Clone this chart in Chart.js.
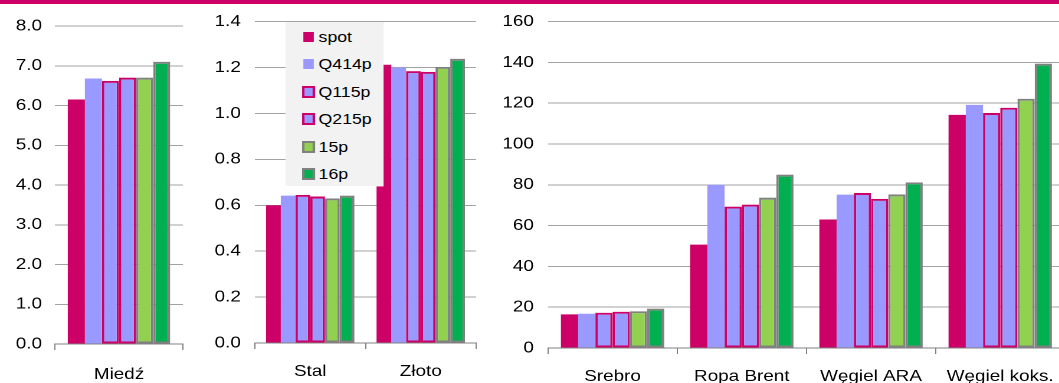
<!DOCTYPE html>
<html lang="pl">
<head>
<meta charset="utf-8">
<title>Ceny surowców – prognozy</title>
<script src="https://cdn.jsdelivr.net/npm/chart.js@4.4.1/dist/chart.umd.min.js"></script>
<style>
  html, body { margin: 0; padding: 0; background: #ffffff; overflow: hidden; }
  body { width: 1059px; height: 383px; position: relative; }
  #topline { position: absolute; left: 0; top: 0; width: 1059px; height: 4px; background: #cc0066; z-index: 5; }
  /* the whole figure is laid out at a narrower width and widened horizontally */
  #stage { position: absolute; left: 0; top: 0; width: 910px; height: 383px; transform-origin: 0 0; }
  .panel { position: absolute; top: 0; height: 383px; }
  .panel canvas { display: block; }
  #legend { position: absolute; background: #f2f2f2; z-index: 3;
            font-family: "Liberation Sans", Arial, sans-serif; font-size: 15px; color: #000000; }
  .item { position: absolute; left: 0; height: 20px; line-height: 20px; white-space: nowrap; }
  .sw { position: absolute; box-sizing: border-box; }
  .lbl { position: absolute; }
</style>
</head>
<body>
<div id="topline"></div>
<div id="stage">
  <div class="panel" id="p1"><canvas id="c1"></canvas></div>
  <div class="panel" id="p2"><canvas id="c2"></canvas></div>
  <div class="panel" id="p3"><canvas id="c3"></canvas></div>
  <div id="legend"></div>
</div>
<script>
// Commodities, grouped into three panels with their own value scales
const commodities = ['Miedź', 'Stal', 'Złoto', 'Srebro', 'Ropa Brent', 'Węgiel ARA', 'Węgiel koks.'];
const panelCopper = [0];
const panelSteelGold = [1, 2];
const panelOthers = [3, 4, 5, 6];

// Series: spot price and forecasts
const seriesNames = ['spot', 'Q414p', 'Q115p', 'Q215p', '15p', '16p'];
const spot  = [6.15, 0.600, 1.212, 16.5, 50.7, 63.0, 114.3];
const q414p = [6.68, 0.642, 1.200, 16.8, 80.0, 75.2, 119.2];
const q115p = [6.62, 0.645, 1.184, 17.3, 69.3, 76.0, 115.2];
const q215p = [6.70, 0.638, 1.181, 17.8, 70.3, 73.1, 117.8];
const y15p  = [6.70, 0.630, 1.203, 18.0, 73.7, 75.3, 122.2];
const y16p  = [7.10, 0.642, 1.238, 19.3, 85.0, 81.2, 139.4];
const seriesValues = [spot, q414p, q115p, q215p, y15p, y16p];

// Value axis ticks per panel
const ticksCopper = [0, 1, 2, 3, 4, 5, 6, 7, 8];
const ticksSteelGold = [0, 0.2, 0.4, 0.6, 0.8, 1.0, 1.2, 1.4];
const ticksOthers = [0, 20, 40, 60, 80, 100, 120, 140, 160];

// Styling
const SX = 1.18;                      // horizontal widening of the figure
const MAGENTA = '#cc0066', PERIWINKLE = '#9999ff', LIGHTGREEN = '#92d050', GREEN = '#00b050', GREY = '#808080';
const seriesStyle = [
  { fill: MAGENTA,    border: MAGENTA, bw: 0 },
  { fill: PERIWINKLE, border: PERIWINKLE, bw: 0 },
  { fill: PERIWINKLE, border: MAGENTA, bw: 2 },
  { fill: PERIWINKLE, border: MAGENTA, bw: 2 },
  { fill: LIGHTGREEN, border: GREY, bw: 2 },
  { fill: GREEN,      border: GREY, bw: 2 }
];
const FONT = { family: '"Liberation Sans", Arial, sans-serif', size: 16 };
const TEXT = '#000000';
const GRID = '#a3a3a3';

document.getElementById('stage').style.transform = 'scaleX(' + SX + ')';

function datasetsFor(idx) {
  return seriesNames.map((name, s) => ({
    label: name,
    data: idx.map(i => seriesValues[s][i]),
    backgroundColor: seriesStyle[s].fill,
    borderColor: seriesStyle[s].border,
    borderWidth: seriesStyle[s].bw,
    borderSkipped: false,
    categoryPercentage: 0.8,
    barPercentage: 1.0
  }));
}

function makePanel(cfg) {
  const wrap = document.getElementById(cfg.wrap);
  wrap.style.left = cfg.left + 'px';
  wrap.style.width = cfg.width + 'px';
  const canvas = document.getElementById(cfg.canvas);
  canvas.width = cfg.width;
  canvas.height = 383;
  canvas.style.width = cfg.width + 'px';
  canvas.style.height = '383px';
  const tickVals = cfg.ticks;
  return new Chart(canvas, {
    type: 'bar',
    data: { labels: cfg.idx.map(i => commodities[i]), datasets: datasetsFor(cfg.idx) },
    options: {
      responsive: false,
      devicePixelRatio: 2,
      animation: false,
      layout: { padding: { top: cfg.top, right: cfg.padRight, bottom: 0, left: 0 } },
      plugins: { legend: { display: false }, tooltip: { enabled: false } },
      scales: {
        x: {
          grid: { display: true, offset: true, drawOnChartArea: false, drawTicks: true, tickLength: 6, color: GREY, lineWidth: 1 },
          border: { display: true, color: GREY, width: 1 },
          ticks: { font: FONT, color: TEXT, padding: cfg.xPad, maxRotation: 0, autoSkip: false },
          afterFit: s => { s.height = cfg.xHeight; }
        },
        y: {
          min: tickVals[0],
          max: tickVals[tickVals.length - 1],
          afterBuildTicks: s => { s.ticks = tickVals.map(v => ({ value: v })); },
          grid: { display: true, drawTicks: false, color: GRID, lineWidth: 1 },
          border: { display: false },
          ticks: { font: FONT, color: TEXT, padding: cfg.yPad, callback: v => cfg.fmt(v) },
          afterFit: s => { s.width = cfg.yWidth; }
        }
      }
    }
  });
}

makePanel({ wrap: 'p1', canvas: 'c1', idx: panelCopper, ticks: ticksCopper,
  left: 0, width: 160, yWidth: 46.6, padRight: 4.9, top: 26, xHeight: 39, xPad: 15, yPad: 11,
  fmt: v => v.toFixed(1) });
makePanel({ wrap: 'p2', canvas: 'c2', idx: panelSteelGold, ticks: ticksSteelGold,
  left: 170, width: 240, yWidth: 46.1, padRight: 6.6, top: 21, xHeight: 40, xPad: 13, yPad: 12,
  fmt: v => v.toFixed(1) });
makePanel({ wrap: 'p3', canvas: 'c3', idx: panelOthers, ticks: ticksOthers,
  left: 420, width: 486, yWidth: 44.4, padRight: 0, top: 21, xHeight: 35, xPad: 13, yPad: 12,
  fmt: v => String(Math.round(v)) });

// Legend box laid over the middle panel
const legend = document.getElementById('legend');
legend.style.left = (286 / SX) + 'px';
legend.style.top = '22px';
legend.style.width = (97 / SX) + 'px';
legend.style.height = '164px';
seriesNames.forEach((name, s) => {
  const st = seriesStyle[s];
  const cy = 15 + s * 27.4;
  const item = document.createElement('div');
  item.className = 'item';
  item.style.top = (cy - 10) + 'px';
  item.style.width = '100%';
  const sw = document.createElement('div');
  sw.className = 'sw';
  const w = st.bw ? 11 : 9.3, h = st.bw ? 12 : 10;
  sw.style.width = w + 'px';
  sw.style.height = h + 'px';
  sw.style.left = (st.bw ? 13.6 : 14.4) + 'px';
  sw.style.top = (10 - h / 2) + 'px';
  sw.style.background = st.fill;
  if (st.bw) sw.style.border = st.bw + 'px solid ' + st.border;
  const lbl = document.createElement('div');
  lbl.className = 'lbl';
  lbl.style.left = (32 / SX + 0.5) + 'px';
  lbl.style.top = '0px';
  lbl.textContent = name;
  item.appendChild(sw);
  item.appendChild(lbl);
  legend.appendChild(item);
});
</script>
</body>
</html>
